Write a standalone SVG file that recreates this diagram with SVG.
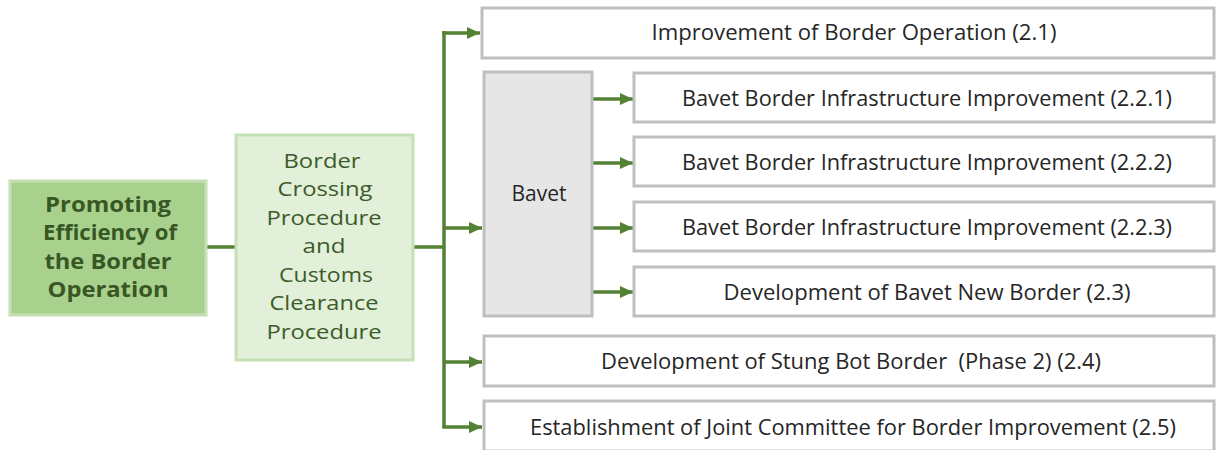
<svg xmlns="http://www.w3.org/2000/svg" width="1219" height="450" viewBox="0 0 1219 450">
  <style>
    .box { fill: #ffffff; stroke: #bfbfbf; stroke-width: 3; }
    .hub { fill: #e6e6e6; stroke: #bfbfbf; stroke-width: 3; }
    .root { fill: #a9d18e; stroke: #c5e0b4; stroke-width: 3; }
    .mid { fill: #e2efd9; stroke: #c5e0b4; stroke-width: 3; }
    .lbl { font-family: "Open Sans", "Noto Sans", "Liberation Sans", sans-serif; font-size: 21px; fill: #262626; text-anchor: middle; white-space: pre; }
    .rootTxt { font-family: "Open Sans", "Noto Sans", "Liberation Sans", sans-serif; font-size: 20.5px; font-weight: bold; fill: #385723; text-anchor: middle; }
    .midTxt { font-family: "Open Sans", "Noto Sans", "Liberation Sans", sans-serif; font-size: 20.5px; fill: #3b5b29; text-anchor: middle; }
    .wire { fill: none; stroke: #548235; stroke-width: 3.5; }
  </style>
  <defs>
    <marker id="arrow" markerUnits="userSpaceOnUse" markerWidth="14" markerHeight="14" refX="13" refY="7" orient="auto">
      <polygon points="0,1 13,7 0,13" fill="#548235"/>
    </marker>
  </defs>

  <rect width="1219" height="450" fill="#ffffff"/>

  <!-- connectors -->
  <g id="connectors">
    <line class="wire" x1="207" y1="247" x2="236" y2="247"/>
    <line class="wire" x1="413" y1="247" x2="444" y2="247"/>
    <line class="wire" x1="444" y1="31" x2="444" y2="428"/>
    <path class="wire" d="M442.3,33 H480" marker-end="url(#arrow)"/>
    <path class="wire" d="M444,228 H482" marker-end="url(#arrow)"/>
    <path class="wire" d="M444,362 H482" marker-end="url(#arrow)"/>
    <path class="wire" d="M442.3,427 H482" marker-end="url(#arrow)"/>
    <path class="wire" d="M593,99 H633" marker-end="url(#arrow)"/>
    <path class="wire" d="M593,163 H633" marker-end="url(#arrow)"/>
    <path class="wire" d="M593,228 H633" marker-end="url(#arrow)"/>
    <path class="wire" d="M593,292 H633" marker-end="url(#arrow)"/>
  </g>

  <g id="node-root">
    <rect class="root" x="10" y="181" width="196" height="134"/>
    <text class="rootTxt" x="108" y="212" textLength="126" lengthAdjust="spacingAndGlyphs">Promoting</text>
    <text class="rootTxt" x="110" y="240" textLength="134" lengthAdjust="spacingAndGlyphs">Efficiency of</text>
    <text class="rootTxt" x="108" y="269" textLength="127" lengthAdjust="spacingAndGlyphs">the Border</text>
    <text class="rootTxt" x="108" y="297" textLength="121" lengthAdjust="spacingAndGlyphs">Operation</text>
  </g>

  <g id="node-procedure">
    <rect class="mid" x="236" y="135" width="177" height="225"/>
    <text class="midTxt" x="322" y="168" textLength="77" lengthAdjust="spacingAndGlyphs">Border</text>
    <text class="midTxt" x="325" y="196" textLength="95" lengthAdjust="spacingAndGlyphs">Crossing</text>
    <text class="midTxt" x="324" y="225" textLength="115" lengthAdjust="spacingAndGlyphs">Procedure</text>
    <text class="midTxt" x="324" y="253" textLength="43" lengthAdjust="spacingAndGlyphs">and</text>
    <text class="midTxt" x="326" y="282" textLength="94" lengthAdjust="spacingAndGlyphs">Customs</text>
    <text class="midTxt" x="324" y="310" textLength="109" lengthAdjust="spacingAndGlyphs">Clearance</text>
    <text class="midTxt" x="324" y="339" textLength="115" lengthAdjust="spacingAndGlyphs">Procedure</text>
  </g>

  <g id="node-2-1">
    <rect class="box" x="482" y="8" width="732" height="50"/>
    <text class="lbl" x="854" y="40" textLength="405" lengthAdjust="spacingAndGlyphs">Improvement of Border Operation (2.1)</text>
  </g>

  <g id="node-bavet">
    <rect class="hub" x="484" y="72" width="108" height="244"/>
    <text class="lbl" x="539" y="201">Bavet</text>
  </g>

  <g id="node-2-2-1">
    <rect class="box" x="634" y="73" width="580" height="49"/>
    <text class="lbl" x="927" y="106" textLength="490" lengthAdjust="spacingAndGlyphs">Bavet Border Infrastructure Improvement (2.2.1)</text>
  </g>

  <g id="node-2-2-2">
    <rect class="box" x="634" y="137" width="580" height="49"/>
    <text class="lbl" x="927" y="170" textLength="490" lengthAdjust="spacingAndGlyphs">Bavet Border Infrastructure Improvement (2.2.2)</text>
  </g>

  <g id="node-2-2-3">
    <rect class="box" x="634" y="202" width="580" height="49"/>
    <text class="lbl" x="927" y="235" textLength="490" lengthAdjust="spacingAndGlyphs">Bavet Border Infrastructure Improvement (2.2.3)</text>
  </g>

  <g id="node-2-3">
    <rect class="box" x="634" y="267" width="580" height="49"/>
    <text class="lbl" x="927" y="300" textLength="407" lengthAdjust="spacingAndGlyphs">Development of Bavet New Border (2.3)</text>
  </g>

  <g id="node-2-4">
    <rect class="box" x="484" y="336" width="730" height="50"/>
    <text class="lbl" x="851" y="369" textLength="500" lengthAdjust="spacingAndGlyphs">Development of Stung Bot Border  (Phase 2) (2.4)</text>
  </g>

  <g id="node-2-5">
    <rect class="box" x="484" y="401" width="730" height="50"/>
    <text class="lbl" x="853" y="435" textLength="646" lengthAdjust="spacingAndGlyphs">Establishment of Joint Committee for Border Improvement (2.5)</text>
  </g>
</svg>
